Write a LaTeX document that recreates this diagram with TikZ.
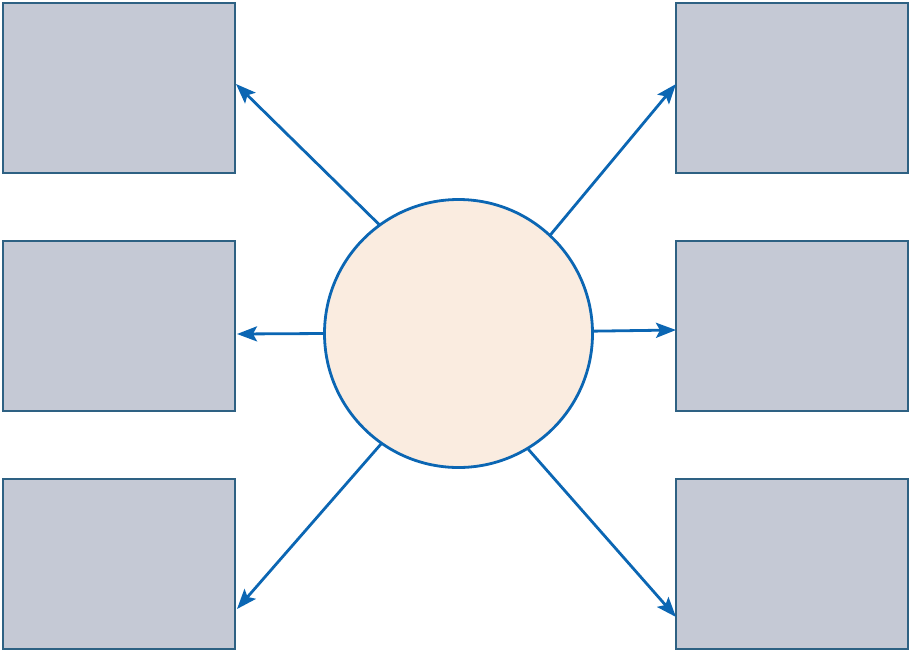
\documentclass[tikz,border=0pt]{standalone}
\usetikzlibrary{arrows.meta,calc}
\definecolor{boxfill}{HTML}{C5C9D5}
\definecolor{boxline}{HTML}{2E6183}
\definecolor{circfill}{HTML}{FAECE0}
\definecolor{blueline}{HTML}{0B66B3}
\begin{document}
\begin{tikzpicture}[x=1pt,y=-1pt,
  leaf/.style={draw=boxline,fill=boxfill,line width=2.8pt,minimum width=232pt,minimum height=170pt,inner sep=0pt,outer sep=0pt},
  hub/.style={circle,draw=blueline,fill=circfill,line width=2.8pt,minimum size=268pt,inner sep=0pt,outer sep=0pt},
  link/.style={draw=blueline,line width=2.8pt,-{Stealth[length=20pt,width=15pt,inset=4pt]}}]
\useasboundingbox (0,0) rectangle (912,651);
\node[leaf] (b1) at (119,88) {};
\node[leaf] (b2) at (119,326) {};
\node[leaf] (b3) at (119,564) {};
\node[leaf] (b4) at (792,88) {};
\node[leaf] (b5) at (792,326) {};
\node[leaf] (b6) at (792,564) {};
\node[hub] (c) at (458.5,333.5) {};
\coordinate (t1) at ($(b1.east)+(1,-4)$);
\coordinate (t2) at ($(b2.east)+(2,8)$);
\coordinate (t3) at ($(b3.east)+(2,45)$);
\coordinate (t4) at ($(b4.west)+(0,-4)$);
\coordinate (t5) at ($(b5.west)+(0,4)$);
\coordinate (t6) at ($(b6.west)+(0,53)$);
\draw[link] (c.126) -- (t1);
\draw[link] (c.west) -- (t2);
\draw[link] (c.235) -- (t3);
\draw[link] (c.47.6) -- (t4);
\draw[link] (c.1.5) -- (t5);
\draw[link] (c.-59) -- (t6);
\end{tikzpicture}
\end{document}
